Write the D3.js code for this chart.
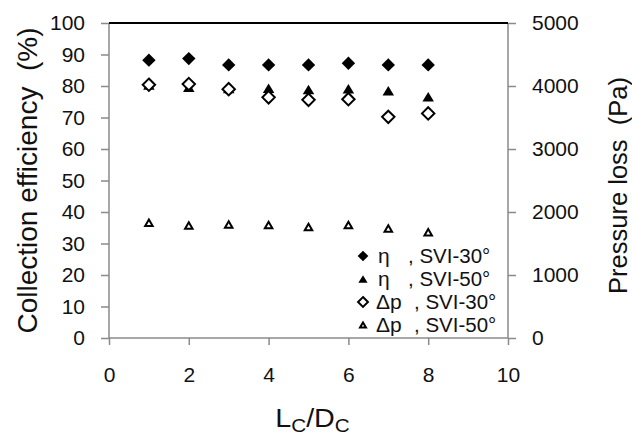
<!DOCTYPE html>
<html lang="en">
<head>
<meta charset="UTF-8">
<title>Collection efficiency and pressure loss</title>
<script src="https://d3js.org/d3.v7.min.js"></script>
<style>
  body { margin: 0; background: #fff; }
  text { font-family: "Liberation Sans", Arial, sans-serif; fill: #111; white-space: pre; }
</style>
</head>
<body>
<script>
// values
const ratio = [1, 2, 3, 4, 5, 6, 7, 8];
const etaSVI30 = [88.2, 88.7, 86.7, 86.7, 86.7, 87.2, 86.7, 86.7];
const etaSVI50 = [80.3, 79.6, 79.2, 79.3, 78.9, 79.1, 78.5, 76.6];
const dpSVI30 = [4020, 4030, 3950, 3820, 3780, 3790, 3510, 3565];
const dpSVI50 = [1830, 1785, 1800, 1795, 1760, 1795, 1740, 1680];
const xTicks = [0, 2, 4, 6, 8, 10];
const yTicks = [0, 10, 20, 30, 40, 50, 60, 70, 80, 90, 100];
const y2Ticks = [0, 1000, 2000, 3000, 4000, 5000];
const legendItems = [
  {sym: "η", label: ", SVI-30°", marker: "diamondFill"},
  {sym: "η", label: ", SVI-50°", marker: "triFill"},
  {sym: "Δp", label: ", SVI-30°", marker: "diamondOpen"},
  {sym: "Δp", label: ", SVI-50°", marker: "triOpen"}
];

const width = 632, height = 436;
const mLeft = 109, mRight = 508, mTop = 23, mBottom = 338;
const axisColor = "#8a8a8a";

const svg = d3.select("body").append("svg")
  .attr("width", width)
  .attr("height", height);

const x = d3.scaleLinear().domain([0, 10]).range([mLeft, mRight]);
const y = d3.scaleLinear().domain([0, 100]).range([mBottom, mTop]);
const y2 = d3.scaleLinear().domain([0, 5000]).range([mBottom, mTop]);

// marker shapes
function diamond(r) {
  return `M0,${-r}L${r},0L0,${r}L${-r},0Z`;
}
function triangle(w, h) {
  return `M0,${-h / 2}L${w / 2},${h / 2}L${-w / 2},${h / 2}Z`;
}
function drawMarker(g, type, scale) {
  const s = scale || 1;
  if (type === "diamondFill") {
    g.append("path").attr("d", diamond(6.7 * s)).attr("fill", "#000");
  } else if (type === "triFill") {
    g.append("path").attr("d", triangle(11.5 * s, 9.5 * s)).attr("fill", "#000");
  } else if (type === "diamondOpen") {
    g.append("path").attr("d", diamond(6.2 * s)).attr("fill", "#fff")
      .attr("stroke", "#000").attr("stroke-width", 2);
  } else {
    g.append("path").attr("d", triangle(7.5 * s, 6.5 * s)).attr("fill", "#fff")
      .attr("stroke", "#000").attr("stroke-width", 2).attr("stroke-linejoin", "miter");
  }
}

// axes
const xAxis = svg.append("g")
  .attr("transform", `translate(0,${mBottom})`)
  .call(d3.axisBottom(x).tickValues(xTicks).tickSize(7).tickPadding(22));
const yAxis = svg.append("g")
  .attr("transform", `translate(${mLeft},0)`)
  .call(d3.axisLeft(y).tickValues(yTicks).tickSize(8).tickPadding(16));
const y2Axis = svg.append("g")
  .attr("transform", `translate(${mRight},0)`)
  .call(d3.axisRight(y2).tickValues(y2Ticks).tickFormat(d3.format("d")).tickSize(8).tickPadding(16));

[xAxis, yAxis, y2Axis].forEach(a => {
  a.select(".domain").remove();
  a.selectAll(".tick line").attr("stroke", axisColor).attr("stroke-width", 1.5);
  a.selectAll(".tick text")
    .style("font-family", '"Liberation Sans", Arial, sans-serif')
    .style("font-size", "21px")
    .attr("fill", "#111");
});
yAxis.selectAll(".tick text").attr("x", -24);
y2Axis.selectAll(".tick text").attr("x", 24);

// spines
svg.append("line").attr("x1", mLeft).attr("x2", mRight).attr("y1", mBottom).attr("y2", mBottom)
  .attr("stroke", axisColor).attr("stroke-width", 1.5);
svg.append("line").attr("x1", mLeft).attr("x2", mLeft).attr("y1", mTop).attr("y2", mBottom)
  .attr("stroke", axisColor).attr("stroke-width", 1.5);
svg.append("line").attr("x1", mRight).attr("x2", mRight).attr("y1", mTop).attr("y2", mBottom)
  .attr("stroke", axisColor).attr("stroke-width", 1.5);
// top border
svg.append("line").attr("x1", mLeft).attr("x2", mRight).attr("y1", mTop).attr("y2", mTop)
  .attr("stroke", "#000").attr("stroke-width", 2);

// data series
function series(vals, scale, type) {
  svg.append("g").selectAll("g")
    .data(vals)
    .enter().append("g")
    .attr("transform", (d, i) => `translate(${x(ratio[i])},${scale(d)})`)
    .each(function () { drawMarker(d3.select(this), type); });
}
series(etaSVI30, y, "diamondFill");
series(etaSVI50, y, "triFill");
series(dpSVI30, y2, "diamondOpen");
series(dpSVI50, y2, "triOpen");

// axis titles
svg.append("text")
  .attr("transform", `translate(37,${(mTop + mBottom) / 2}) rotate(-90)`)
  .attr("text-anchor", "middle")
  .style("font-size", "28px")
  .text("Collection efficiency  (%)");

svg.append("text")
  .attr("transform", `translate(627,${(mTop + mBottom) / 2 + 5}) rotate(-90)`)
  .attr("text-anchor", "middle")
  .style("font-size", "25.5px")
  .text("Pressure loss  (Pa)");

const xt = svg.append("text")
  .attr("transform", `translate(${(mLeft + mRight) / 2 + 4},427) scale(1.15,1)`)
  .attr("text-anchor", "middle")
  .style("font-size", "25px");
xt.append("tspan").text("L");
xt.append("tspan").attr("dy", 5).style("font-size", "18px").text("C");
xt.append("tspan").attr("dy", -5).text("/D");
xt.append("tspan").attr("dy", 5).style("font-size", "18px").text("C");

// legend
const legend = svg.append("g");
legendItems.forEach((d, i) => {
  const by = 263 + i * 23;
  const row = legend.append("g");
  const m = row.append("g").attr("transform", `translate(363,${by - 7})`);
  drawMarker(m, d.marker, 0.8);
  row.append("text").attr("x", d.sym === "η" ? 378 : 376).attr("y", by)
    .style("font-size", "21px").text(d.sym);
  row.append("text").attr("x", d.sym === "η" ? 408 : 414).attr("y", by)
    .style("font-size", "20.5px").text(d.label);
});
</script>
</body>
</html>
